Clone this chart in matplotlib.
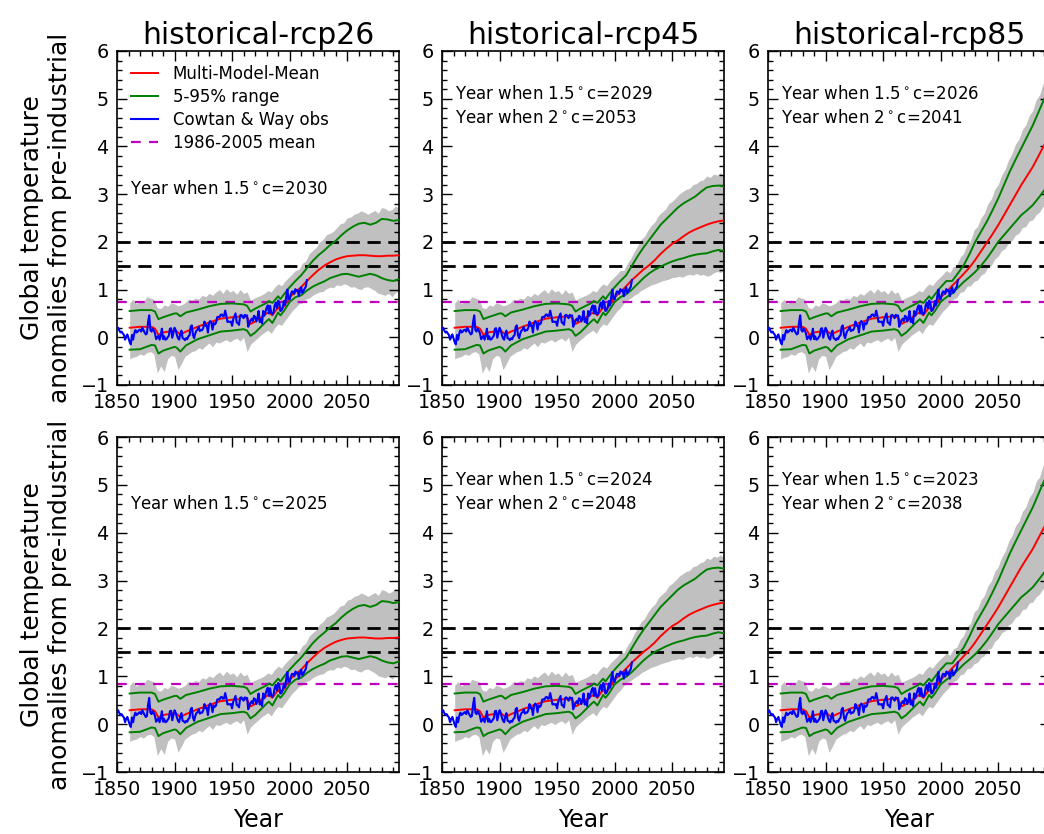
import numpy as np
import matplotlib
matplotlib.use("Agg")
import matplotlib.pyplot as plt
from matplotlib.ticker import MultipleLocator

# ---------------- data ----------------
scenarios = ["historical-rcp26", "historical-rcp45", "historical-rcp85"]

# historical model period (shared by all scenarios)
hist_years = [1861, 1870, 1880, 1883, 1886, 1890, 1900, 1902, 1905, 1910, 1920, 1930, 1940,
              1950, 1960, 1963, 1966, 1970, 1980, 1982, 1985, 1990, 1992, 1995, 2000, 2005]
hist_mean = [0.20, 0.22, 0.22, 0.18, 0.05, 0.10, 0.14, 0.12, 0.06, 0.12, 0.22, 0.31, 0.39,
             0.42, 0.44, 0.42, 0.28, 0.33, 0.50, 0.52, 0.46, 0.63, 0.56, 0.65, 0.84, 0.95]
hist_hi = [0.55, 0.57, 0.57, 0.54, 0.38, 0.42, 0.50, 0.50, 0.44, 0.52, 0.58, 0.65, 0.70,
           0.71, 0.69, 0.66, 0.54, 0.60, 0.72, 0.76, 0.72, 0.86, 0.80, 0.90, 1.05, 1.18]
hist_lo = [-0.26, -0.25, -0.16, -0.17, -0.34, -0.28, -0.20, -0.22, -0.30, -0.17, -0.04, 0.04, 0.12,
           0.14, 0.17, 0.14, 0.03, 0.10, 0.34, 0.38, 0.30, 0.52, 0.46, 0.55, 0.74, 0.84]

# scenario period
fut_years = list(range(2010, 2100, 5))
fut_mean = {
    "historical-rcp26": [1.05, 1.18, 1.30, 1.41, 1.50, 1.57, 1.63, 1.67, 1.70, 1.71, 1.72, 1.72, 1.71, 1.70, 1.70, 1.71, 1.71, 1.72],
    "historical-rcp45": [1.07, 1.20, 1.31, 1.42, 1.51, 1.62, 1.75, 1.86, 1.96, 2.03, 2.12, 2.20, 2.26, 2.31, 2.36, 2.40, 2.43, 2.45],
    "historical-rcp85": [1.08, 1.20, 1.33, 1.46, 1.62, 1.80, 1.98, 2.16, 2.35, 2.56, 2.77, 2.98, 3.19, 3.38, 3.57, 3.80, 4.03, 4.20],
}
fut_hi = {
    "historical-rcp26": [1.30, 1.45, 1.60, 1.72, 1.82, 1.93, 2.02, 2.14, 2.24, 2.32, 2.38, 2.40, 2.36, 2.40, 2.48, 2.47, 2.44, 2.46],
    "historical-rcp45": [1.30, 1.50, 1.70, 1.88, 2.04, 2.20, 2.36, 2.48, 2.60, 2.72, 2.81, 2.88, 2.95, 3.05, 3.14, 3.17, 3.18, 3.16],
    "historical-rcp85": [1.18, 1.34, 1.51, 1.74, 2.00, 2.21, 2.42, 2.66, 2.91, 3.19, 3.47, 3.72, 3.96, 4.20, 4.44, 4.72, 5.00, 5.20],
}
fut_lo = {
    "historical-rcp26": [0.88, 0.98, 1.06, 1.12, 1.17, 1.24, 1.28, 1.32, 1.33, 1.30, 1.27, 1.30, 1.33, 1.30, 1.24, 1.20, 1.18, 1.22],
    "historical-rcp45": [0.90, 1.00, 1.12, 1.24, 1.34, 1.42, 1.48, 1.54, 1.59, 1.63, 1.66, 1.70, 1.73, 1.75, 1.76, 1.80, 1.83, 1.81],
    "historical-rcp85": [0.92, 1.04, 1.16, 1.26, 1.37, 1.50, 1.65, 1.82, 2.00, 2.14, 2.28, 2.42, 2.56, 2.66, 2.77, 2.92, 3.08, 3.20],
}

# full model envelope (grey), historical part
gray_hist_years = list(range(1861, 2006, 3))
gray_hist_hi = [0.72, 0.80, 0.70, 0.78, 0.75, 0.85, 0.82, 0.80, 0.62, 0.60,
                0.68, 0.65, 0.72, 0.70, 0.66, 0.68, 0.72, 0.80, 0.78, 0.82,
                0.80, 0.88, 0.85, 0.92, 0.88, 0.95, 1.00, 0.92, 1.02, 0.95,
                0.98, 0.90, 1.00, 0.92, 0.95, 0.78, 0.82, 0.85, 0.88, 0.92,
                0.98, 0.95, 1.05, 1.12, 1.08, 1.18, 1.25, 1.32, 1.40]
gray_hist_lo = [-0.45, -0.42, -0.40, -0.35, -0.38, -0.32, -0.30, -0.35, -0.75, -0.60,
                -0.72, -0.45, -0.38, -0.40, -0.68, -0.55, -0.40, -0.35, -0.30, -0.28,
                -0.22, -0.25, -0.18, -0.12, -0.20, -0.10, -0.12, -0.08, -0.05, -0.10,
                -0.05, -0.02, -0.08, 0.00, -0.30, -0.15, -0.08, -0.02, 0.05, 0.10,
                0.15, 0.08, 0.20, 0.28, 0.25, 0.35, 0.45, 0.55, 0.62]
gray_fut_years = list(range(2008, 2096, 3))
gray_fut_hi = {
    "historical-rcp26": [1.42, 1.55, 1.60, 1.75, 1.82, 1.88, 2.00, 2.05, 2.15, 2.18,
                         2.22, 2.30, 2.38, 2.40, 2.50, 2.52, 2.58, 2.60, 2.65, 2.62,
                         2.58, 2.62, 2.66, 2.60, 2.72, 2.70, 2.65, 2.68, 2.75, 2.70],
    "historical-rcp45": [1.40, 1.55, 1.65, 1.80, 1.92, 2.05, 2.12, 2.25, 2.35, 2.42,
                         2.55, 2.62, 2.68, 2.80, 2.85, 2.92, 3.00, 3.05, 3.10, 3.12,
                         3.20, 3.22, 3.28, 3.30, 3.38, 3.35, 3.42, 3.40, 3.45, 3.38],
    "historical-rcp85": [1.35, 1.48, 1.52, 1.68, 1.76, 1.95, 2.02, 2.25, 2.32, 2.50,
                         2.60, 2.80, 2.90, 3.10, 3.20, 3.40, 3.52, 3.72, 3.85, 4.05,
                         4.15, 4.35, 4.45, 4.65, 4.75, 4.98, 5.08, 5.32, 5.42, 5.60],
}
gray_fut_lo = {
    "historical-rcp26": [0.70, 0.72, 0.80, 0.82, 0.88, 0.92, 0.95, 0.96, 1.02, 1.05,
                         1.04, 1.10, 1.08, 1.12, 1.10, 1.05, 1.06, 1.02, 1.00, 1.05,
                         1.06, 1.02, 0.98, 0.92, 0.90, 0.88, 0.92, 0.85, 0.94, 0.96],
    "historical-rcp45": [0.72, 0.78, 0.82, 0.88, 0.92, 0.98, 1.02, 1.06, 1.10, 1.12,
                         1.15, 1.18, 1.20, 1.22, 1.25, 1.26, 1.28, 1.26, 1.30, 1.32,
                         1.30, 1.34, 1.30, 1.32, 1.28, 1.30, 1.35, 1.38, 1.36, 1.40],
    "historical-rcp85": [0.70, 0.80, 0.83, 0.94, 0.96, 1.07, 1.08, 1.17, 1.20, 1.30,
                         1.34, 1.47, 1.50, 1.64, 1.70, 1.82, 1.86, 1.98, 2.03, 2.14,
                         2.18, 2.30, 2.32, 2.44, 2.46, 2.57, 2.63, 2.74, 2.80, 2.90],
}

# Cowtan & Way observations, 1850-2015
obs_years = list(range(1850, 2016))
obs_vals = [0.17, 0.20, 0.14, 0.10, 0.12, 0.08, 0.05, -0.05, 0.02, 0.06,
            -0.02, -0.10, -0.15, 0.05, -0.05, 0.08, 0.15, 0.10, 0.12, 0.15,
            0.16, 0.12, 0.20, 0.15, 0.10, 0.06, 0.08, 0.32, 0.46, 0.15,
            0.12, 0.18, 0.14, 0.08, -0.04, 0.00, 0.03, -0.05, 0.04, 0.18,
            -0.04, 0.02, -0.05, -0.04, 0.00, 0.03, 0.18, 0.19, -0.01, 0.10,
            0.20, 0.15, 0.05, -0.02, -0.05, 0.08, 0.14, -0.02, -0.03, -0.06,
            -0.02, -0.04, 0.02, 0.04, 0.22, 0.25, 0.05, -0.02, 0.08, 0.14,
            0.16, 0.22, 0.13, 0.15, 0.15, 0.20, 0.33, 0.24, 0.25, 0.10,
            0.30, 0.34, 0.30, 0.16, 0.30, 0.27, 0.30, 0.42, 0.43, 0.42,
            0.47, 0.48, 0.44, 0.45, 0.56, 0.45, 0.32, 0.33, 0.32, 0.33,
            0.24, 0.38, 0.44, 0.50, 0.31, 0.30, 0.26, 0.46, 0.47, 0.44,
            0.40, 0.47, 0.45, 0.46, 0.22, 0.30, 0.35, 0.39, 0.34, 0.45,
            0.43, 0.33, 0.41, 0.55, 0.32, 0.38, 0.29, 0.55, 0.45, 0.54,
            0.62, 0.67, 0.50, 0.66, 0.51, 0.48, 0.53, 0.67, 0.73, 0.61,
            0.77, 0.73, 0.55, 0.57, 0.63, 0.76, 0.67, 0.85, 1.00, 0.80,
            0.79, 0.90, 0.96, 0.96, 0.91, 1.01, 0.97, 0.99, 0.86, 0.98,
            1.05, 0.93, 0.97, 1.02, 1.06, 1.20]

# the two rows use different baselines
row_shift = [0.0, 0.09]
ref_mean_level = [0.75, 0.84]       # 1986-2005 mean line
thresholds = [1.5, 2.0]
year_15 = [[2030, 2029, 2026], [2025, 2024, 2023]]
year_20 = [[None, 2053, 2041], [None, 2048, 2038]]
legend_labels = ["Multi-Model-Mean", "5-95% range", "Cowtan & Way obs", "1986-2005 mean"]

# ---------------- figure ----------------
plt.rcParams["lines.scale_dashes"] = False
fig = plt.figure(figsize=(10.44, 8.34), dpi=100)

W, H = 1044.0, 834.0
col_left = [117, 442, 768]
ax_w = 282
row_top = [51, 437]
row_bot = [385, 772]

for r in range(2):
    for c, sc in enumerate(scenarios):
        ax = fig.add_axes([col_left[c] / W, 1 - row_bot[r] / H, ax_w / W, (row_bot[r] - row_top[r]) / H])
        s = row_shift[r]
        gx = np.array(gray_hist_years + gray_fut_years)
        ghi = np.array(gray_hist_hi + gray_fut_hi[sc]) + s
        glo = np.array(gray_hist_lo + gray_fut_lo[sc]) + s
        ax.fill_between(gx, glo, ghi, color="#c0c0c0", linewidth=0, zorder=1)

        for t in thresholds:
            ax.axhline(t, color="k", lw=2.0, dashes=(9.5, 5.5), zorder=2)
        hm = ax.axhline(ref_mean_level[r], color="m", lw=1.6, dashes=(7, 6), zorder=2)

        mx = np.array(hist_years + fut_years)
        mhi = np.array(hist_hi + fut_hi[sc]) + s
        mlo = np.array(hist_lo + fut_lo[sc]) + s
        mm = np.array(hist_mean + fut_mean[sc]) + s
        hg, = ax.plot(mx, mhi, color="g", lw=1.4, zorder=3)
        ax.plot(mx, mlo, color="g", lw=1.4, zorder=3)
        hr, = ax.plot(mx, mm, color="r", lw=1.4, zorder=4)
        hb, = ax.plot(obs_years, np.array(obs_vals) + s, color="b", lw=1.5, zorder=5)

        ax.set_xlim(1850, 2095)
        ax.set_ylim(-1, 6)
        ax.set_xticks([1850, 1900, 1950, 2000, 2050])
        ax.set_yticks(range(-1, 7))
        ax.xaxis.set_minor_locator(MultipleLocator(10))
        ax.yaxis.set_minor_locator(MultipleLocator(0.2))
        ax.tick_params(which="both", direction="in", top=True, right=True, labelsize=13.8)
        ax.tick_params(which="major", length=7, width=1, pad=6)
        ax.tick_params(which="minor", length=3.5, width=1)
        for sp in ax.spines.values():
            sp.set_linewidth(1.2)

        if r == 0:
            ax.set_title(sc, fontsize=21.5, pad=5)
        if r == 1:
            ax.set_xlabel("Year", fontsize=17, labelpad=6)
        if c == 0:
            ax.set_ylabel("Global temperature\nanomalies from pre-industrial", fontsize=18, labelpad=6)

        if year_20[r][c] is None:
            ytxt = 3.0 if r == 0 else 4.5
            ax.text(1861, ytxt, "Year when 1.5$^\\circ$c=%d" % year_15[r][c], fontsize=12, va="baseline")
        else:
            ax.text(1861, 5.0, "Year when 1.5$^\\circ$c=%d" % year_15[r][c], fontsize=12, va="baseline")
            ax.text(1861, 4.5, "Year when 2$^\\circ$c=%d" % year_20[r][c], fontsize=12, va="baseline")

        if r == 0 and c == 0:
            ax.legend([hr, hg, hb, hm], legend_labels, loc="upper left", frameon=False,
                      fontsize=12, handlelength=1.6, handletextpad=0.9, labelspacing=0.3,
                      borderaxespad=0.45, borderpad=0.4)

fig.savefig("out.png", dpi=100)
